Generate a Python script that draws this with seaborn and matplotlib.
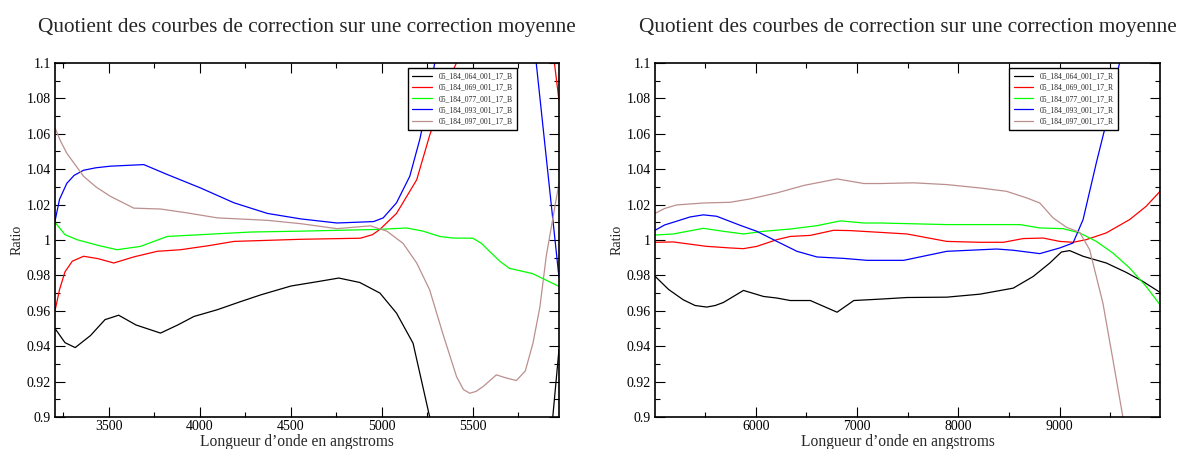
import pandas as pd
import matplotlib.pyplot as plt
import matplotlib.ticker as mticker
import seaborn as sns

# ------------------------------------------------------------------
# Data (wavelength in angstroms, ratio)
# ------------------------------------------------------------------

# Blue arm (left panel)
b064_x = [3205, 3260, 3316, 3400, 3480, 3555, 3650, 3785, 3880, 3969, 4097, 4220, 4336, 4502, 4650, 4765, 4880, 4991, 5082, 5173, 5264, 5350, 5500, 5800, 5900, 5941, 5975]
b064_y = [0.950, 0.9420, 0.9392, 0.9460, 0.9550, 0.9575, 0.9520, 0.9474, 0.9520, 0.9568, 0.9606, 0.9650, 0.969, 0.974, 0.9765, 0.9785, 0.9760, 0.970, 0.9587, 0.9417, 0.9002, 0.85, 0.80, 0.80, 0.86, 0.900, 0.938]

b069_x = [3205, 3230, 3260, 3300, 3362, 3440, 3528, 3640, 3767, 3895, 4050, 4189, 4557, 4883, 4950, 4991, 5082, 5193, 5264, 5356, 5411, 5600, 5800, 5950, 5975]
b069_y = [0.960, 0.972, 0.982, 0.988, 0.9908, 0.9895, 0.987, 0.9905, 0.9936, 0.9945, 0.9968, 0.9992, 1.0004, 1.001, 1.003, 1.006, 1.015, 1.034, 1.059, 1.087, 1.100, 1.16, 1.18, 1.100, 1.079]

b077_x = [3205, 3260, 3325, 3440, 3546, 3675, 3822, 4005, 4281, 4557, 4991, 5137, 5228, 5320, 5392, 5502, 5550, 5593, 5650, 5702, 5830, 5975]
b077_y = [1.010, 1.003, 1.0002, 0.9970, 0.9945, 0.9964, 1.002, 1.003, 1.0045, 1.005, 1.006, 1.0068, 1.005, 1.0020, 1.0011, 1.001, 0.9980, 0.9936, 0.9880, 0.984, 0.981, 0.9738]

b093_x = [3205, 3230, 3270, 3310, 3362, 3430, 3509, 3693, 3822, 4005, 4189, 4373, 4557, 4755, 4956, 5009, 5082, 5155, 5210, 5264, 5292, 5500, 5700, 5850, 5975]
b093_y = [1.0106, 1.023, 1.032, 1.0365, 1.0394, 1.0408, 1.0417, 1.0426, 1.037, 1.0294, 1.021, 1.015, 1.0119, 1.0096, 1.0104, 1.0125, 1.021, 1.036, 1.0568, 1.083, 1.100, 1.25, 1.25, 1.100, 0.979]

b097_x = [3205, 3235, 3270, 3362, 3430, 3509, 3638, 3785, 3932, 4097, 4373, 4557, 4755, 4938, 5029, 5119, 5193, 5264, 5337, 5412, 5450, 5485, 5520, 5558, 5631, 5686, 5741, 5790, 5832, 5870, 5905, 5975]
b097_y = [1.0634, 1.056, 1.049, 1.036, 1.030, 1.0247, 1.018, 1.0175, 1.0153, 1.0125, 1.0111, 1.0092, 1.0064, 1.008, 1.005, 0.998, 0.987, 0.9719, 0.947, 0.9228, 0.9155, 0.9134, 0.9145, 0.9172, 0.9238, 0.922, 0.9206, 0.926, 0.9417, 0.962, 0.9908, 1.032]

# Red arm (right panel)
r064_x = [5000, 5140, 5284, 5400, 5515, 5600, 5680, 5878, 6076, 6208, 6340, 6538, 6670, 6802, 6967, 7230, 7492, 7885, 8213, 8541, 8738, 8902, 9016, 9098, 9230, 9459, 9656, 9820, 9990]
r064_y = [0.9798, 0.9720, 0.9662, 0.9630, 0.9621, 0.9630, 0.9647, 0.9715, 0.9681, 0.9672, 0.9658, 0.9658, 0.9625, 0.9592, 0.9658, 0.9666, 0.9675, 0.9677, 0.9694, 0.9728, 0.9794, 0.987, 0.9932, 0.994, 0.9908, 0.987, 0.9817, 0.9766, 0.9704]

r069_x = [5000, 5185, 5515, 5746, 5878, 6010, 6208, 6340, 6538, 6769, 6934, 7230, 7492, 7885, 8213, 8443, 8639, 8836, 9000, 9131, 9262, 9459, 9689, 9852, 9990]
r069_y = [0.9987, 0.9989, 0.9964, 0.9955, 0.9951, 0.9964, 1.0002, 1.002, 1.0026, 1.0055, 1.0053, 1.0043, 1.0034, 0.9992, 0.9987, 0.9987, 1.0008, 1.0011, 0.9992, 0.9987, 1.0002, 1.004, 1.0115, 1.019, 1.0275]

r077_x = [5000, 5185, 5482, 5680, 5878, 6076, 6340, 6604, 6835, 7066, 7230, 7885, 8213, 8607, 8803, 9033, 9197, 9361, 9525, 9689, 9852, 9990]
r077_y = [1.0028, 1.0034, 1.0066, 1.0049, 1.0034, 1.0049, 1.0062, 1.0081, 1.0108, 1.0096, 1.0096, 1.0087, 1.0087, 1.0087, 1.0068, 1.0064, 1.004, 0.9992, 0.9926, 0.9842, 0.9738, 0.9634]

r093_x = [5000, 5100, 5218, 5350, 5482, 5614, 5845, 6010, 6208, 6406, 6604, 6868, 7099, 7459, 7885, 8377, 8541, 8803, 9000, 9131, 9230, 9361, 9492, 9590, 9800, 9990]
r093_y = [1.0053, 1.0085, 1.0106, 1.0130, 1.0142, 1.0134, 1.0083, 1.0049, 0.9992, 0.9936, 0.9904, 0.9896, 0.9885, 0.9885, 0.9936, 0.9949, 0.9942, 0.9923, 0.9955, 0.9983, 1.0115, 1.0436, 1.0738, 1.100, 1.16, 1.22]

r097_x = [5000, 5100, 5218, 5482, 5746, 5944, 6208, 6472, 6802, 6934, 7066, 7230, 7557, 7885, 8213, 8475, 8672, 8803, 8934, 9066, 9197, 9295, 9426, 9525, 9623, 9800, 9990]
r097_y = [1.0149, 1.0178, 1.0198, 1.0209, 1.0213, 1.0232, 1.0266, 1.0308, 1.0345, 1.0332, 1.0319, 1.0319, 1.0323, 1.0313, 1.0294, 1.0275, 1.0238, 1.0209, 1.0125, 1.0072, 1.0043, 0.9945, 0.9643, 0.9323, 0.900, 0.83, 0.76]

names_b = ["05_184_064_001_17_B", "05_184_069_001_17_B", "05_184_077_001_17_B",
           "05_184_093_001_17_B", "05_184_097_001_17_B"]
names_r = ["05_184_064_001_17_R", "05_184_069_001_17_R", "05_184_077_001_17_R",
           "05_184_093_001_17_R", "05_184_097_001_17_R"]
colors = ["#000000", "#ff0000", "#00ff00", "#0000ff", "#bc8f8f"]

title = "Quotient des courbes de correction sur une correction moyenne"
xlab = "Longueur d\u2019onde en angstroms"


def long_table(names, xs, ys):
    frames = []
    for n, x, y in zip(names, xs, ys):
        frames.append(pd.DataFrame({"x": x, "y": y, "serie": n}))
    return pd.concat(frames, ignore_index=True)


df_b = long_table(names_b, [b064_x, b069_x, b077_x, b093_x, b097_x],
                  [b064_y, b069_y, b077_y, b093_y, b097_y])
df_r = long_table(names_r, [r064_x, r069_x, r077_x, r093_x, r097_x],
                  [r064_y, r069_y, r077_y, r093_y, r097_y])

sns.set_theme(style="ticks")
plt.rcParams["font.family"] = ["Liberation Serif", "DejaVu Serif"]

fig = plt.figure(figsize=(11.8, 4.49), dpi=100)
ax1 = fig.add_axes([0.0466, 0.0713, 0.4271, 0.7884])
ax2 = fig.add_axes([0.5551, 0.0713, 0.4280, 0.7884])

panels = [
    (ax1, df_b, names_b, (3205, 5975), 500, 250),
    (ax2, df_r, names_r, (5005, 9990), 1000, 500),
]

for ax, df, names, xlim, major, minor in panels:
    sns.lineplot(data=df, x="x", y="y", hue="serie", hue_order=names,
                 palette=colors, sort=False, estimator=None, lw=0.9, ax=ax)
    ax.set_xlim(*xlim)
    ax.set_ylim(0.9, 1.1)
    ax.xaxis.set_major_locator(mticker.MultipleLocator(major))
    ax.xaxis.set_minor_locator(mticker.MultipleLocator(minor))
    ax.yaxis.set_major_locator(mticker.MultipleLocator(0.02))
    ax.yaxis.set_minor_locator(mticker.MultipleLocator(0.01))
    ax.yaxis.set_major_formatter(mticker.FormatStrFormatter("%g"))
    ax.tick_params(which="both", direction="in", top=True, right=True,
                   labelsize=10, colors="black", pad=3)
    ax.tick_params(axis="x", pad=2)
    ax.tick_params(which="major", length=7, width=0.8)
    ax.tick_params(which="minor", length=3.5, width=0.8)
    for s in ax.spines.values():
        s.set_linewidth(1.2)
        s.set_color("black")
    ax.set_title(title, fontsize=15.3, pad=22)
    ax.set_xlabel(xlab, fontsize=11.2)
    ax.xaxis.set_label_coords(0.48, -0.049)
    ax.set_ylabel("Ratio", fontsize=10, labelpad=2)

    handles, labels = ax.get_legend_handles_labels()
    leg = ax.legend(handles, labels, loc="upper right",
                    bbox_to_anchor=(0.917, 0.986), borderaxespad=0,
                    fontsize=5.5, frameon=True, fancybox=False, framealpha=1,
                    edgecolor="black", handlelength=2.6, borderpad=0.6,
                    labelspacing=0.42)
    leg.get_frame().set_linewidth(1.0)

fig.savefig("out.png", dpi=100)
